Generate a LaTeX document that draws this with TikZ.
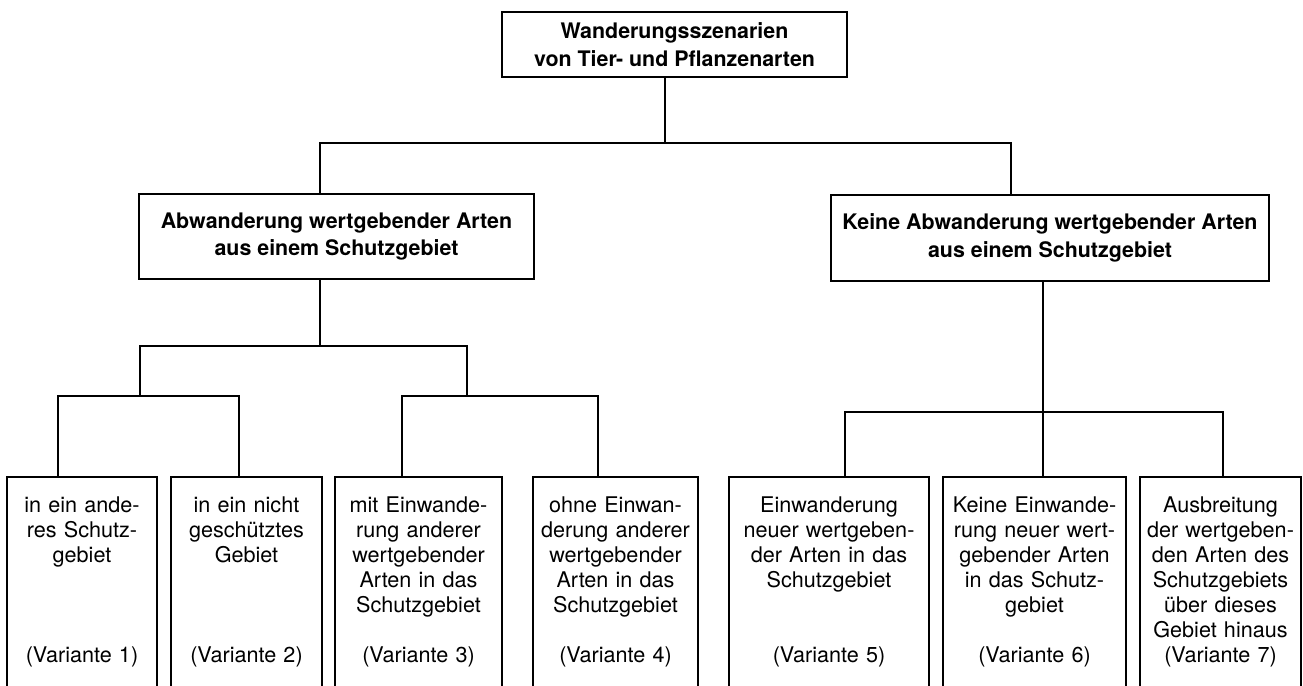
\documentclass[tikz,border=0pt]{standalone}
\usepackage{fontspec}
\setmainfont{TeX Gyre Heros}
\usetikzlibrary{positioning}
\tikzstyle{every heading} = []
\tikzstyle{every variant} = []
\tikzstyle{heading} = [rectangle, draw, black, align=center,
                      font=\fontsize{10.7}{13.8}\selectfont\bfseries, every heading]
\tikzstyle{variant} = [anchor=north, align=center, inner xsep=0pt, inner ysep=9.5pt,
                      font=\fontsize{10.8}{12.5}\selectfont, every variant]
\tikzstyle{branch} = [line width=0.9pt]

\begin{document}
\begin{tikzpicture}[x=0.5pt,y=-0.5pt,line width=0.9pt]
  \clip (0,0) rectangle (1303,686);
  \coordinate (bot) at (0,700);
  %Nodes
  \node[heading,minimum width=172.5pt,minimum height=32.5pt] (top) at (674.5,44.5) {Wanderungsszenarien\\ von Tier- und Pflanzenarten};
  \node[heading,minimum width=197.5pt,minimum height=42.5pt] (abw) at (336.5,236.5) {Abwanderung wertgebender Arten\\ aus einem Schutzgebiet};
  \node[heading,minimum width=219pt,minimum height=43pt] (keine) at (1050,238) {Keine Abwanderung wertgebender Arten\\ aus einem Schutzgebiet};

  \node[variant,text width=74pt]   (v1) at (82,477)     {in ein ande-\\ res Schutz-\\ gebiet\\[37.5pt] (Variante 1)};
  \node[variant,text width=74.5pt] (v2) at (246.5,477)  {in ein nicht\\ geschütztes\\ Gebiet\\[37.5pt] (Variante 2)};
  \node[variant,text width=82.5pt] (v3) at (418.5,477)  {mit Einwande-\\ rung anderer\\ wertgebender\\ Arten in das\\ Schutzgebiet\\[12.5pt] (Variante 3)};
  \node[variant,text width=81.5pt] (v4) at (615.5,477)  {ohne Einwan-\\ derung anderer\\ wertgebender\\ Arten in das\\ Schutzgebiet\\[12.5pt] (Variante 4)};
  \node[variant,text width=99pt]   (v5) at (829,477)    {Einwanderung\\ neuer wertgeben-\\ der Arten in das\\ Schutzgebiet\\[25pt] (Variante 5)};
  \node[variant,text width=90.5pt] (v6) at (1034.5,477) {Keine Einwande-\\ rung neuer wert-\\ gebender Arten\\ in das Schutz-\\ gebiet\\[12.5pt] (Variante 6)};
  \node[variant,text width=79.5pt] (v7) at (1220.5,477) {Ausbreitung\\ der wertgeben-\\ den Arten des\\ Schutzgebiets\\ über dieses\\ Gebiet hinaus\\ (Variante 7)};

  % open boxes, running off the page
  \foreach \n in {v1,v2,v3,v4,v5,v6,v7}
    \draw[branch] (\n.north west |- bot) |- (\n.north east) -- (\n.north east |- bot);

  %Lines
  \coordinate (c0) at (665,143);
  \coordinate (c1) at (320,346);
  \coordinate (c1a) at (140,396);
  \coordinate (c1b) at (467,396);
  \coordinate (c2) at (1043,412);
  \draw[branch] (top.south -| c0) -- (c0);
  \draw[branch] (abw.north -| 320,0) |- (c0) -| (keine.north -| 1011,0);
  \draw[branch] (abw.south -| c1) -- (c1);
  \draw[branch] (c1a) |- (c1) -| (c1b);
  \draw[branch] (v1.north -| 58,0) |- (c1a) -| (v2.north -| 239,0);
  \draw[branch] (v3.north -| 402,0) |- (c1b) -| (v4.north -| 598,0);
  \draw[branch] (keine.south -| c2) -- (c2);
  \draw[branch] (v5.north -| 845,0) |- (c2) -| (v7.north -| 1223,0);
  \draw[branch] (c2) -- (v6.north -| c2);
\end{tikzpicture}
\end{document}
